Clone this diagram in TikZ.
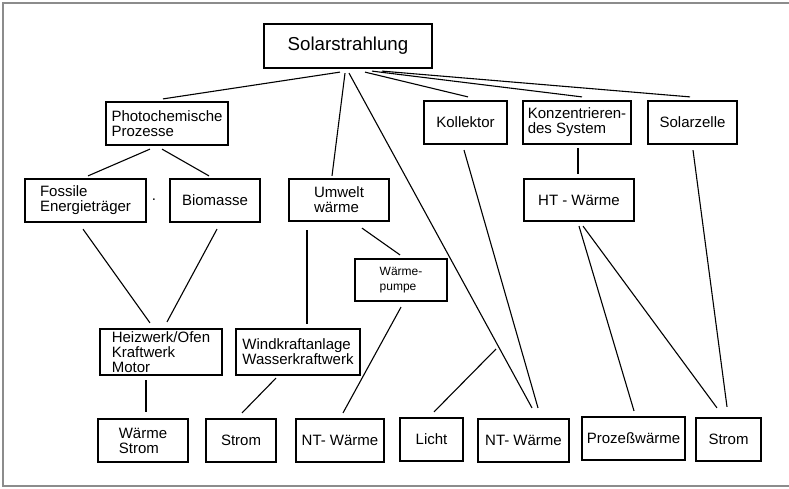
\documentclass[tikz,border=0pt]{standalone}
\usepackage{fontspec}
\setmainfont{Liberation Sans}
\usetikzlibrary{calc}
\begin{document}
\begin{tikzpicture}[x=1pt,y=-1pt,
  box/.style={draw=black,line width=2.2pt,align=left,inner sep=0pt,
    font=\fontsize{15}{15}\selectfont},
  conn/.style={line width=1.1pt,black},
  frameline/.style={line width=1.4pt,draw=black!45}]
\useasboundingbox (0,0) rectangle (789,488);
\draw[frameline] (789,3) -- (3,3) -- (3,486) -- (789,486);
% boxes
\node[box,minimum width=168pt,minimum height=44pt,font=\fontsize{18.7}{20}\selectfont] (sol) at (348,46) {Solarstrahlung};
\node[box,minimum width=122pt,minimum height=43pt] (photo) at (167,123.5) {Photochemische\\Prozesse};
\node[box,minimum width=121pt,minimum height=43pt] (foss) at (85.5,200.5) {Fossile\\Energieträger};
\node[box,minimum width=90pt,minimum height=43pt] (bio) at (215,200.5) {Biomasse};
\node[font=\fontsize{15}{15}\selectfont,inner sep=0pt] (dot) at (154,200) {.};
\node[box,minimum width=100pt,minimum height=42pt] (umw) at (339,200) {Umwelt\\wärme};
\node[box,minimum width=83pt,minimum height=43pt] (koll) at (465.5,122.5) {Kollektor};
\node[box,minimum width=108pt,minimum height=43pt] (konz) at (577,122.5) {Konzentrieren-\\des System};
\node[box,minimum width=89pt,minimum height=43pt] (solz) at (692.5,122.5) {Solarzelle};
\node[box,minimum width=110pt,minimum height=42pt] (ht) at (579,200) {HT - Wärme};
\node[box,minimum width=92pt,minimum height=42pt,font=\fontsize{12}{15}\selectfont] (wp) at (401,280) {Wärme-\\pumpe};
\node[box,minimum width=122pt,minimum height=46pt] (heiz) at (161,352) {Heizwerk/Ofen\\Kraftwerk\\Motor};
\node[box,minimum width=124pt,minimum height=46pt] (wind) at (298,352) {Windkraftanlage\\Wasserkraftwerk};
\node[box,minimum width=90pt,minimum height=43pt] (wst) at (143,440.5) {Wärme\\Strom};
\node[box,minimum width=70pt,minimum height=43pt] (str1) at (241,440.5) {Strom};
\node[box,minimum width=88pt,minimum height=43pt] (nt1) at (340,440.5) {NT- Wärme};
\node[box,minimum width=63pt,minimum height=43pt] (licht) at (431.5,439.5) {Licht};
\node[box,minimum width=91pt,minimum height=43pt] (nt2) at (523.5,440.5) {NT- Wärme};
\node[box,minimum width=103pt,minimum height=43pt] (proz) at (633.5,438.5) {Prozeßwärme};
\node[box,minimum width=65pt,minimum height=43pt] (str2) at (728.5,439.5) {Strom};
\coordinate (lj) at (496,349);
% connectors
\draw[conn] ($(sol.south)+(-8,3)$) -- ($(photo.north)+(-4,-2)$);
\draw[conn] ($(sol.south)+(-3,4)$) -- ($(umw.north)+(-7,-2)$);
\draw[conn] ($(sol.south)+(1,4)$) -- ($(nt2.north)+(8.5,-10)$);
\draw[conn] ($(sol.south)+(17,3)$) -- ($(koll.north)+(2.5,-3)$);
\draw[conn] ($(sol.south)+(24,2)$) -- ($(konz.north)+(5,-3)$);
\draw[conn] ($(sol.south)+(34,2)$) -- ($(solz.north)+(-2.5,-3)$);
\draw[conn] ($(photo.south)+(-17,3)$) -- ($(foss.north)+(2.5,-2)$);
\draw[conn] ($(photo.south)+(-5,3)$) -- ($(bio.north)+(-6,-2)$);
\draw[conn] ($(foss.south)+(-2.5,6)$) -- ($(heiz.north)+(-11,-5)$);
\draw[conn] ($(bio.south)+(2,6)$) -- ($(heiz.north)+(6,-6)$);
\draw[conn] ($(umw.south)+(-32,8)$) -- ($(wind.north)+(9,-4)$);
\draw[conn] ($(umw.south)+(23,6)$) -- ($(wp.north)+(-1,-3)$);
\draw[conn] ($(heiz.south)+(-15,4)$) -- ($(wst.north)+(3,-6)$);
\draw[conn] ($(wind.south)+(-22,2)$) -- ($(str1.north)+(1,-5)$);
\draw[conn] ($(wp.south)+(0,5)$) -- ($(nt1.north)+(3,-5)$);
\draw[conn] ($(koll.south)+(-1.5,5)$) -- ($(nt2.north)+(14.5,-10)$);
\draw[conn] ($(konz.south)+(1,3)$) -- ($(ht.north)+(-1,-4)$);
\draw[conn] ($(solz.south)+(0.5,5)$) -- ($(str2.north)+(-1.5,-10)$);
\draw[conn] ($(ht.south)+(0,4)$) -- ($(proz.north)+(0.5,-5)$);
\draw[conn] ($(ht.south)+(4,4)$) -- ($(str2.north)+(-11.5,-9)$);
\draw[conn] ($(licht.north)+(2.5,-5)$) -- (lj);
\end{tikzpicture}
\end{document}
